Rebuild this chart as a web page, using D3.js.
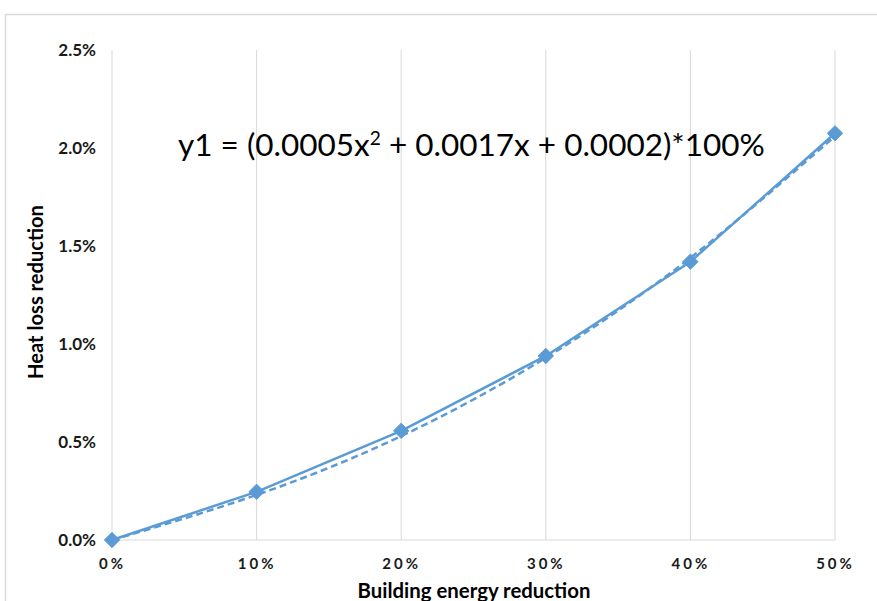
<!DOCTYPE html>
<html><head><meta charset="utf-8">
<script src="https://cdn.jsdelivr.net/npm/d3@7"></script>
<style>body{margin:0;background:#fff}svg{display:block}</style>
</head><body>
<svg id="c" width="877" height="601"></svg>
<script>
const xValues = [0, 0.1, 0.2, 0.3, 0.4, 0.5];
const heatLoss = [0.0, 0.00246, 0.00557, 0.00939, 0.01420, 0.02075];
const trendValues = [0.0, 0.0023, 0.0053, 0.0093, 0.0144, 0.0206];
const xTicks = [0, 0.1, 0.2, 0.3, 0.4, 0.5];
const yTicks = [0, 0.005, 0.01, 0.015, 0.02, 0.025];
const xTitle = "Building energy reduction";
const yTitle = "Heat loss reduction";

const svg = d3.select("#c");
const color = "#5b9bd5";
const font = "Lato, 'Open Sans', sans-serif";

svg.append("rect").attr("x",5.5).attr("y",14.5).attr("width",900).attr("height",700)
  .attr("fill","none").attr("stroke","#d9d9d9").attr("stroke-width",1.5);

const x = d3.scaleLinear().domain([0,0.5]).range([112,835]);
const y = d3.scaleLinear().domain([0,0.025]).range([540,50]);

svg.append("g").selectAll("line").data(xTicks).join("line")
  .attr("x1",d=>x(d)).attr("x2",d=>x(d)).attr("y1",y(0.025)).attr("y2",y(0))
  .attr("stroke","#d9d9d9").attr("stroke-width",1);
svg.append("line").attr("x1",x(0)).attr("x2",x(0.5)).attr("y1",y(0)).attr("y2",y(0))
  .attr("stroke","#d9d9d9").attr("stroke-width",1);

const xAxis = d3.axisBottom(x).tickValues(xTicks).tickFormat(d3.format(".0%")).tickSize(0).tickPadding(0);
const gx = svg.append("g").attr("transform",`translate(0,${y(0)})`).call(xAxis);
gx.select(".domain").remove();
gx.selectAll("text").attr("dy",null).attr("y",29).attr("font-family",font).attr("font-weight","bold")
  .attr("font-size",15).attr("fill","#1a1a1a").style("letter-spacing","3px");

const yAxis = d3.axisLeft(y).tickValues(yTicks).tickFormat(d3.format(".1%")).tickSize(0).tickPadding(0);
const gy = svg.append("g").attr("transform",`translate(96,0)`).call(yAxis);
gy.select(".domain").remove();
gy.selectAll("text").attr("dy","0.35em").attr("x",0).attr("font-family",font).attr("font-weight","bold")
  .attr("font-size",17).attr("fill","#1a1a1a");

const pts = xValues.map((v,i)=>[v,trendValues[i]]);
svg.append("path").datum(pts)
  .attr("d", d3.line().x(d=>x(d[0])).y(d=>y(d[1])).curve(d3.curveNatural))
  .attr("fill","none").attr("stroke",color).attr("stroke-width",2.5).attr("stroke-dasharray","7,4");

const dat = xValues.map((v,i)=>[v,heatLoss[i]]);
svg.append("path").datum(dat)
  .attr("d", d3.line().x(d=>x(d[0])).y(d=>y(d[1])))
  .attr("fill","none").attr("stroke",color).attr("stroke-width",2.5);

svg.append("g").selectAll("path").data(dat).join("path")
  .attr("transform",d=>`translate(${x(d[0])},${y(d[1])})`)
  .attr("d", d3.symbol(d3.symbolDiamond2, 150)())
  .attr("fill",color).attr("stroke",color).attr("stroke-width",1);

const eq = svg.append("text").attr("x",178).attr("y",156)
  .attr("font-family",font).attr("font-size",28).attr("fill","#000");
eq.append("tspan").text("y1 = (0.0005x");
eq.append("tspan").text("2").attr("font-size",17).attr("dy",-11);
eq.append("tspan").text(" + 0.0017x + 0.0002)*100%").attr("dy",11);
const w = eq.node().getComputedTextLength();
const target = 587;
eq.attr("font-size", 28*target/w);
eq.selectAll("tspan").filter((d,i)=>i===1).attr("font-size",17*target/w);

function fitText(sel, base, targetW){
  const ww = sel.node().getComputedTextLength();
  sel.attr("font-size", base*targetW/ww);
}
const xt = svg.append("text").attr("x",474).attr("y",598).attr("text-anchor","middle")
  .attr("font-family",font).attr("font-weight","bold").attr("font-size",18).attr("fill","#000").text(xTitle);
fitText(xt, 18, 233);
const yt = svg.append("text").attr("transform","translate(43,292) rotate(-90)").attr("text-anchor","middle")
  .attr("font-family",font).attr("font-weight","bold").attr("font-size",18).attr("fill","#000").text(yTitle);
fitText(yt, 18, 174);
</script>
</body></html>
